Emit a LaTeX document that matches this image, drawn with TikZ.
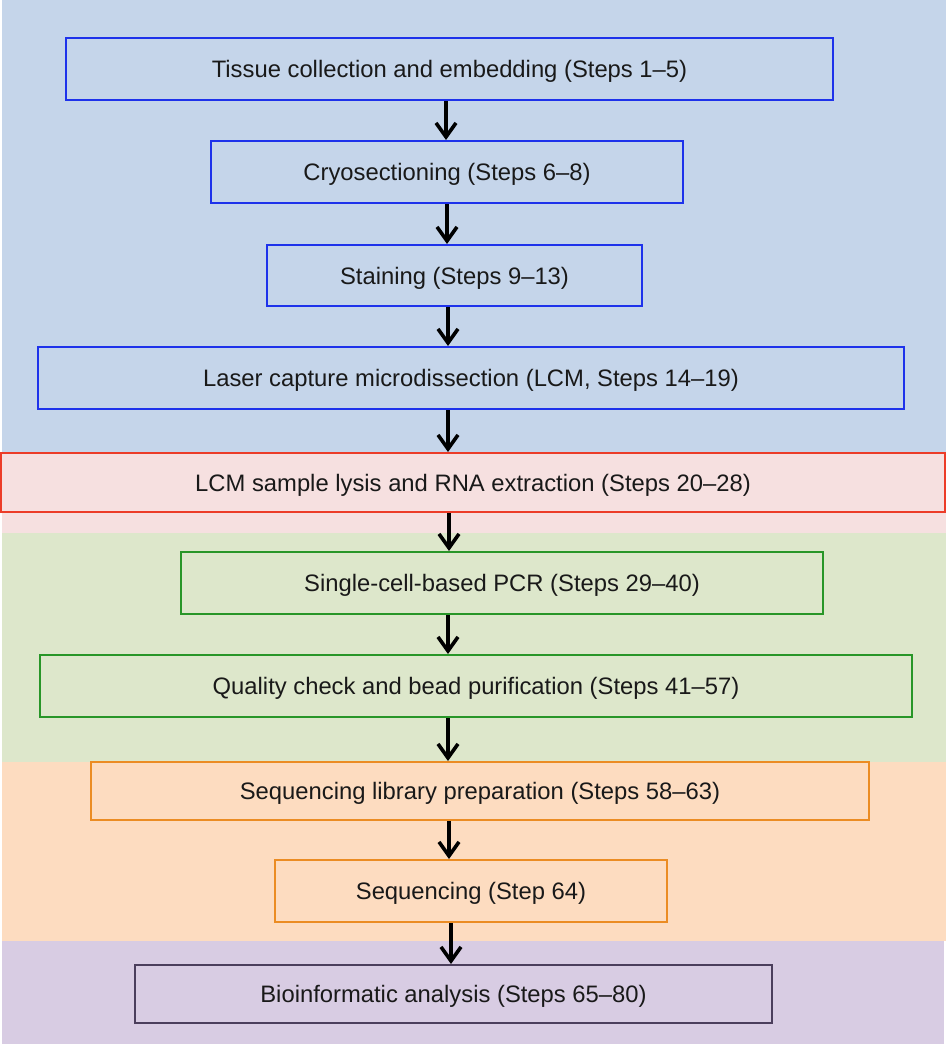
\documentclass[tikz,border=0pt]{standalone}
\usepackage{fontspec}
\setmainfont{Liberation Sans}
\usepackage{tikz}
\usetikzlibrary{arrows.meta}

\definecolor{bandblue}{RGB}{197,213,234}
\definecolor{bandpink}{RGB}{246,224,224}
\definecolor{bandgreen}{RGB}{221,231,203}
\definecolor{bandorange}{RGB}{253,220,192}
\definecolor{bandpurple}{RGB}{216,204,227}
\definecolor{edgeblue}{RGB}{30,50,235}
\definecolor{edgered}{RGB}{236,60,40}
\definecolor{edgegreen}{RGB}{40,150,40}
\definecolor{edgeorange}{RGB}{235,140,35}
\definecolor{edgepurple}{RGB}{75,62,92}

\begin{document}
\begin{tikzpicture}[x=0.5pt,y=0.5pt,yscale=-1,xscale=1,
    stepnode/.style={draw,line width=1pt,inner sep=0pt,minimum height=31pt,text depth=0pt,
      font=\fontsize{11.9}{14}\selectfont,text=black!90},
    flow/.style={line width=1.8pt,-{Straight Barb[length=7pt,width=10pt,line width=1.8pt]}}]
            \useasboundingbox (0,0) rectangle (946,1044);

            %Shape: Rectangle [bands]
            \fill [bandblue] (2,0) rectangle (946,453);
            \fill [bandpink] (2,453) rectangle (946,533);
            \fill [bandgreen] (2,533) rectangle (946,762);
            \fill [bandorange] (2,762) rectangle (946,941);
            \fill [bandpurple] (2,941) rectangle (944,1044);

            % Text Node
            \node [stepnode,draw=edgeblue,minimum width=383.5pt] (tissue) at (449.5,69) {Tissue collection and embedding (Steps 1–5)};
            % Text Node
            \node [stepnode,draw=edgeblue,minimum width=236pt] (cryo) at (447,172) {Cryosectioning (Steps 6–8)};
            % Text Node
            \node [stepnode,draw=edgeblue,minimum width=187.5pt,minimum height=30.5pt] (stain) at (454.5,275.5) {Staining (Steps 9–13)};
            % Text Node
            \node [stepnode,draw=edgeblue,minimum width=433pt] (lcm) at (471,378) {Laser capture microdissection (LCM, Steps 14–19)};
            % Text Node
            \node [stepnode,draw=edgered,minimum width=472pt,minimum height=29.5pt] (lysis) at (473,482.5) {LCM sample lysis and RNA extraction (Steps 20–28)};
            % Text Node
            \node [stepnode,draw=edgegreen,minimum width=321pt] (pcr) at (502,583) {Single-cell-based PCR (Steps 29–40)};
            % Text Node
            \node [stepnode,draw=edgegreen,minimum width=436pt] (quality) at (476,686) {Quality check and bead purification (Steps 41–57)};
            % Text Node
            \node [stepnode,draw=edgeorange,minimum width=389pt,minimum height=29pt] (library) at (480,791) {Sequencing library preparation (Steps 58–63)};
            % Text Node
            \node [stepnode,draw=edgeorange,minimum width=196pt] (seq) at (471,891) {Sequencing (Step 64)};
            % Text Node
            \node [stepnode,draw=edgepurple,minimum width=318.5pt,minimum height=29pt] (bioinf) at (453.5,994) {Bioinformatic analysis (Steps 65–80)};

            %Straight Lines [arrows]
            \draw [flow] (tissue.south -| 446,0) -- (cryo.north -| 446,0);
            \draw [flow] (cryo.south -| 447,0) -- (stain.north -| 447,0);
            \draw [flow] (stain.south -| 448,0) -- (lcm.north -| 448,0);
            \draw [flow] (lcm.south -| 448,0) -- (lysis.north -| 448,0);
            \draw [flow] (lysis.south -| 449,0) -- (pcr.north -| 449,0);
            \draw [flow] (pcr.south -| 448,0) -- (quality.north -| 448,0);
            \draw [flow] (quality.south -| 448,0) -- (library.north -| 448,0);
            \draw [flow] (library.south -| 449,0) -- (seq.north -| 449,0);
            \draw [flow] (seq.south -| 451,0) -- (bioinf.north -| 451,0);

\end{tikzpicture}
\end{document}
